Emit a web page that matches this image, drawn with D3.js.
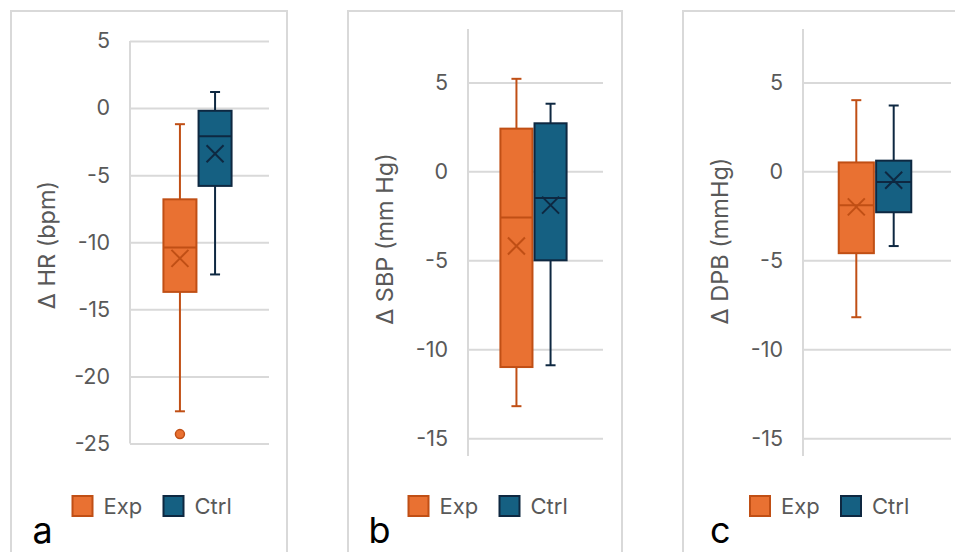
<!DOCTYPE html>
<html><head><meta charset="utf-8">
<script src="https://cdn.jsdelivr.net/npm/d3@7"></script>
<style>body{margin:0;background:#fff} svg{display:block}</style>
</head><body><svg id="chart" width="955" height="552"></svg>
<script>
// ---- data ----
const panelLetters = ["a", "b", "c"];
const yTitles = ["Δ HR (bpm)", "Δ SBP (mm Hg)", "Δ DPB (mmHg)"];
const seriesNames = ["Exp", "Ctrl"];
// stats order: min whisker, q1, median, q3, max whisker, mean
const hrExp = [-22.6, -13.7, -10.4, -6.8, -1.2, -11.2];
const hrCtrl = [-12.4, -5.8, -2.1, -0.2, 1.2, -3.4];
const hrExpOutliers = [-24.3];
const hrCtrlOutliers = [];
const sbpExp = [-13.2, -11.0, -2.6, 2.4, 5.2, -4.2];
const sbpCtrl = [-10.9, -5.0, -1.5, 2.7, 3.8, -1.9];
const dbpExp = [-8.2, -4.6, -1.9, 0.5, 4.0, -2.0];
const dbpCtrl = [-4.2, -2.3, -0.6, 0.6, 3.7, -0.5];
const hrTicks = [5, 0, -5, -10, -15, -20, -25];
const bpTicks = [5, 0, -5, -10, -15];
const hrDomain = [-25, 5];
const bpDomain = [-16, 8];

// ---- style / layout ----
const FONT = "Inter, 'Liberation Sans', Arial, sans-serif";
const fills = {Exp: "#E97132", Ctrl: "#156082"};
const strokes = {Exp: "#C04F15", Ctrl: "#0E2841"};
const grid = "#D9D9D9";
const textCol = "#595959";

const panels = [
  {letter: panelLetters[0], title: yTitles[0], ticks: hrTicks, domain: hrDomain,
   stats: {Exp: hrExp, Ctrl: hrCtrl}, outliers: {Exp: hrExpOutliers, Ctrl: hrCtrlOutliers},
   frame: [11, 287], left: 130, right: 269, top: 41, bottom: 443.5, titleY: 245},
  {letter: panelLetters[1], title: yTitles[1], ticks: bpTicks, domain: bpDomain,
   stats: {Exp: sbpExp, Ctrl: sbpCtrl}, outliers: {Exp: [], Ctrl: []},
   frame: [348, 622], left: 468, right: 603, top: 29, bottom: 456, titleY: 239},
  {letter: panelLetters[2], title: yTitles[2], ticks: bpTicks, domain: bpDomain,
   stats: {Exp: dbpExp, Ctrl: dbpCtrl}, outliers: {Exp: [], Ctrl: []},
   frame: [683, 1000], left: 803, right: 951, top: 29, bottom: 456, titleY: 241}
];

const svg = d3.select("#chart");

panels.forEach(p => {
  const g = svg.append("g");
  // frame
  g.append("rect").attr("x", p.frame[0]).attr("y", 11)
    .attr("width", p.frame[1] - p.frame[0]).attr("height", 600)
    .attr("fill", "none").attr("stroke", grid).attr("stroke-width", 2);

  const y = d3.scaleLinear().domain(p.domain).range([p.bottom, p.top]);
  const xg = d3.scaleBand().domain(["g"]).range([p.left - 2, p.right - 2]).paddingOuter(0.52);
  const xs = d3.scaleBand().domain(seriesNames).range([xg("g"), xg("g") + xg.bandwidth()]).paddingInner(0.06);

  // gridlines
  const gridAxis = d3.axisLeft(y).tickValues(p.ticks).tickSize(-(p.right - p.left)).tickFormat("");
  const gg = g.append("g").attr("transform", `translate(${p.left},0)`).call(gridAxis);
  gg.select(".domain").remove();
  gg.selectAll("line").attr("stroke", grid).attr("stroke-width", 2);

  // vertical axis line
  g.append("line").attr("x1", p.left).attr("x2", p.left)
    .attr("y1", y(p.domain[1])).attr("y2", y(p.domain[0]))
    .attr("stroke", grid).attr("stroke-width", 2);

  // tick labels (plain hyphen-minus as in the original)
  const ax = d3.axisLeft(y).tickValues(p.ticks).tickSize(0).tickPadding(20).tickFormat(d => String(d));
  const ag = g.append("g").attr("transform", `translate(${p.left},0)`).call(ax);
  ag.select(".domain").remove();
  ag.selectAll("text").attr("fill", textCol).style("font-family", FONT).style("font-size", "21.5px");

  // y title
  g.append("text").attr("transform", `translate(${p.left - 84},${p.titleY}) rotate(-90)`)
    .attr("text-anchor", "middle").attr("dominant-baseline", "central")
    .attr("fill", textCol).style("font-family", FONT).style("font-size", "23.5px").text(p.title);

  // boxes
  seriesNames.forEach(s => {
    const [mn, q1, md, q3, mx, mean] = p.stats[s];
    const x0 = xs(s), w = xs.bandwidth(), cx = x0 + w / 2;
    const st = strokes[s];
    g.append("line").attr("x1", cx).attr("x2", cx).attr("y1", y(mx)).attr("y2", y(q3)).attr("stroke", st).attr("stroke-width", 2);
    g.append("line").attr("x1", cx).attr("x2", cx).attr("y1", y(q1)).attr("y2", y(mn)).attr("stroke", st).attr("stroke-width", 2);
    [mx, mn].forEach(v => g.append("line").attr("x1", cx - 5).attr("x2", cx + 5).attr("y1", y(v)).attr("y2", y(v)).attr("stroke", st).attr("stroke-width", 2));
    g.append("rect").attr("x", x0).attr("y", y(q3)).attr("width", w).attr("height", y(q1) - y(q3))
      .attr("fill", fills[s]).attr("stroke", st).attr("stroke-width", 2);
    g.append("line").attr("x1", x0).attr("x2", x0 + w).attr("y1", y(md)).attr("y2", y(md)).attr("stroke", st).attr("stroke-width", 2);
    const my = y(mean), r = 8.5;
    g.append("path").attr("d", `M${cx - r},${my - r}L${cx + r},${my + r}M${cx - r},${my + r}L${cx + r},${my - r}`)
      .attr("stroke", st).attr("stroke-width", 2).attr("fill", "none");
    p.outliers[s].forEach(v => g.append("circle").attr("cx", cx).attr("cy", y(v)).attr("r", 4.5)
      .attr("fill", fills[s]).attr("stroke", st).attr("stroke-width", 1.5));
  });

  // legend
  const c = (p.left + p.right) / 2;
  const legX = [[-128, -96], [-37, -5]];
  seriesNames.forEach((s, i) => {
    g.append("rect").attr("x", c + legX[i][0] + 1).attr("y", 496).attr("width", 20).attr("height", 20)
      .attr("fill", fills[s]).attr("stroke", strokes[s]).attr("stroke-width", 2);
    g.append("text").attr("x", c + legX[i][1]).attr("y", 506).attr("dominant-baseline", "central")
      .attr("fill", textCol).style("font-family", FONT).style("font-size", "22px").text(s);
  });

  // panel letter
  g.append("text").attr("x", c - 167).attr("y", 543).attr("fill", "#000")
    .style("font-family", FONT).style("font-size", "36px").text(p.letter);
});
</script>
</body></html>
